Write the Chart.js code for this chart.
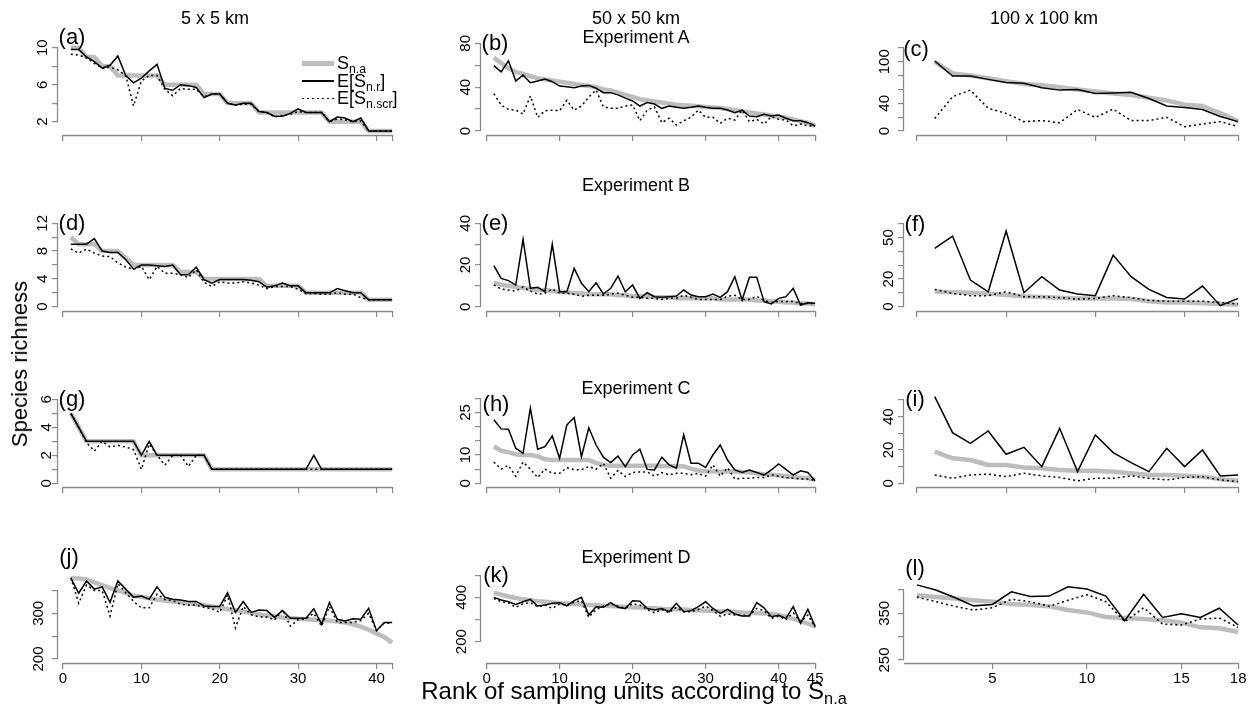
<!DOCTYPE html>
<html><head><meta charset="utf-8">
<script src="https://cdn.jsdelivr.net/npm/chart.js@4.4.1/dist/chart.umd.min.js"></script>
<style>
html,body{margin:0;padding:0;background:#fff;}
body{width:1260px;height:711px;position:relative;overflow:hidden;font-family:"Liberation Sans",Arial,sans-serif;color:#000;}
canvas{position:absolute;z-index:1;}
.t{position:absolute;transform:translate(-50%,-50%);white-space:nowrap;z-index:2;line-height:1;}
.title{font-size:18px;}
.plab{font-size:22px;}
.big{font-size:22px;}
.xt{font-size:24px;}
.ll{position:absolute;z-index:2;}
.lt{position:absolute;z-index:2;font-size:18px;transform:translateY(-50%);line-height:1;white-space:nowrap;}
sub{font-size:68%;line-height:0;vertical-align:-0.3em;}
</style></head><body>

<div class="t title" style="left:215px;top:18px">5 x 5 km</div>
<div class="t title" style="left:636px;top:18px">50 x 50 km</div>
<div class="t title" style="left:1044px;top:18px">100 x 100 km</div>
<div class="t title" style="left:636px;top:37px">Experiment A</div>
<div class="t title" style="left:636px;top:185px">Experiment B</div>
<div class="t title" style="left:636px;top:388px">Experiment C</div>
<div class="t title" style="left:636px;top:557px">Experiment D</div>

<div class="t plab" style="left:72px;top:37px">(a)</div>
<div class="t plab" style="left:495px;top:43px">(b)</div>
<div class="t plab" style="left:916px;top:49px">(c)</div>
<div class="t plab" style="left:72px;top:223px">(d)</div>
<div class="t plab" style="left:495px;top:223px">(e)</div>
<div class="t plab" style="left:915px;top:224px">(f)</div>
<div class="t plab" style="left:72px;top:399px">(g)</div>
<div class="t plab" style="left:496px;top:404px">(h)</div>
<div class="t plab" style="left:915px;top:399px">(i)</div>
<div class="t plab" style="left:69px;top:557px">(j)</div>
<div class="t plab" style="left:496px;top:575px">(k)</div>
<div class="t plab" style="left:915px;top:568px">(l)</div>

<div class="t big" style="left:20px;top:364px;transform:translate(-50%,-50%) rotate(-90deg)">Species richness</div>
<div class="t xt" style="left:634px;top:691px">Rank of sampling units according to S<sub>n.a</sub></div>

<div class="ll" style="left:302px;top:61px;width:32px;height:4.5px;background:#bdbdbd"></div>
<div class="ll" style="left:302px;top:80.3px;width:32px;height:1.5px;background:#000"></div>
<div class="ll" style="left:302px;top:97.6px;width:32px;height:1.5px;background:repeating-linear-gradient(90deg,#000 0 2px,transparent 2px 5px)"></div>
<div class="lt" style="left:337px;top:63px">S<sub>n.a</sub></div>
<div class="lt" style="left:337px;top:81px">E[S<sub>n.r</sub>]</div>
<div class="lt" style="left:337px;top:98px">E[S<sub>n.scr</sub>]</div>

<script>
// ---------- ranks (x categories) ----------
const rank42 = [1,2,3,4,5,6,7,8,9,10,11,12,13,14,15,16,17,18,19,20,21,22,23,24,25,26,27,28,29,30,31,32,33,34,35,36,37,38,39,40,41,42];
const rank45 = [1,2,3,4,5,6,7,8,9,10,11,12,13,14,15,16,17,18,19,20,21,22,23,24,25,26,27,28,29,30,31,32,33,34,35,36,37,38,39,40,41,42,43,44,45];
const rank18 = [1,2,3,4,5,6,7,8,9,10,11,12,13,14,15,16,17,18];

// ---------- tick labels ----------
const xTicks42 = [0,10,20,30,40,42];
const xLabels42 = [0,10,20,30,40];
const xTicks45 = [0,10,20,30,40,45];
const xLabels45 = [0,10,20,30,40,45];
const xTicks18 = [0,5,10,15,18];
const xTicksL = [5,10,15,18];
const xLabelsL = [5,10,15,18];

// ---------- series: S_n.a (sna), E[S_n.r] (esr), E[S_n.scr] (escr) ----------
const a_sna  = [10,10,9,9,8,8,7,7,7,7,7,7,6,6,6,6,6,5,5,5,4,4,4,4,3,3,3,3,3,3,3,3,3,2,2,2,2,2,1,1,1,1];
const a_esr  = [9.8,9.8,9.0,8.5,7.8,8.1,9.1,7.0,6.2,6.7,7.5,8.2,5.6,5.4,6.0,5.9,5.7,4.6,5.0,5.0,4.0,3.8,4.0,4.0,3.1,3.0,2.6,2.6,2.9,3.4,3.0,3.0,3.0,2.0,2.5,2.4,2.0,2.4,1,1,1,1];
const a_escr = [9.3,9.2,8.9,8.3,7.8,7.9,7.6,7.0,3.7,6.4,7.0,7.0,5.5,4.8,5.6,5.5,5.5,4.7,5.0,5.0,4.0,3.8,3.9,3.9,3.1,3.0,2.5,2.7,2.8,3.1,3.0,3.0,3.0,2.0,2.3,2.2,2.0,2.1,1,1,1,1];

const b_sna  = [67,62,57,54,52,50,48,47,46,45,44,43,42,41,40,38,37,35,33,31,29,28,27,26,25,24,23.5,23,22.5,22,21.5,21,20,19,18,17,16,15,14,13,12,10.5,9,7.5,5];
const b_esr  = [59.6,54,64,45.6,51,44,45.6,47.4,45,41,40.4,39.5,41,41.6,39,35,35,33,30,27.4,22.8,26,24.6,20.7,22.8,21.6,20.7,21.6,22.8,21.6,20.7,20.7,19.1,16.7,19.1,13.7,13.1,15.2,13.7,14.6,11.6,9.4,9.4,7.6,4.6];
const b_escr = [34,23.7,19.8,19,15.5,32,12.5,18.5,19,18.5,28,19,22.8,31,37.4,22,20.7,20.7,22.8,23.7,9.4,19,22,7.6,11.6,5.5,9.4,12.5,19,12.5,12.5,7,11.6,10,19,8.5,10.6,6.4,13,10.6,10,4.6,6.4,4.6,4.6];

const c_sna  = [100,83,80,76,72,68,66,63,60,57,54,52,48,44,38,36,26,14];
const c_esr  = [101,79.3,79.3,74.5,70,69,62.5,59,60,54,55,56,47,36,34,31,21,13.5];
const c_escr = [18,49.5,59,32.7,25.5,13.5,15,12,31,19.7,31.7,15,15,19.7,6.3,10,13.5,6.3];

const d_sna  = [10,9,9,9,8,8,8,7,6,6,6,6,6,6,5,5,5,4,4,4,4,4,4,4,4,3,3,3,3,3,2,2,2,2,2,2,2,2,1,1,1,1];
const d_esr  = [9,9,9,9.8,8,7.8,7.8,6.8,5.4,6,6,5.9,5.8,6,4.6,4.6,5.7,3.9,3.4,3.9,3.9,3.9,3.9,3.8,3.6,2.8,3,3.4,3,3,2,2,2,2,2.6,2.3,2,2,1,1,1,1];
const d_escr = [8.3,7.7,8.3,7.7,7.3,7.2,6.3,5.7,5.4,5.8,3.9,5.8,4.8,4.8,4.6,4.2,5.3,3.5,2.9,3.6,3.4,3.4,3.6,3.4,3.1,2.6,2.9,2.9,2.9,2.5,1.9,1.9,1.8,1.8,2.0,1.8,1.8,1.3,1,1,1,1];

const e_sna  = [11.5,10.5,10,9.5,9,8.5,8,8,7.5,7,7,6.5,6.5,6,6,6,6,5.5,5.5,5,5,5,4.5,4.5,4.5,4,4,4,4,4,4,3.5,3.5,3.5,3.5,3.5,3,3,2.5,2.5,2,2,1.5,1.5,1];
const e_esr  = [19.7,13.6,12.5,10.4,32.3,8.8,9.3,7.2,30,7.2,7.2,18.4,11.2,7.2,11.5,6.1,8.8,14.7,7.2,10.4,4,6.7,4.8,4.5,4.8,5.1,8,5.6,4.8,4.8,6.1,4.5,7.2,14.4,3.2,14.1,14.1,2.4,1.3,4,4.8,8.8,0.8,1.9,1.6];
const e_escr = [10.5,8.5,8,7.5,9.5,7.5,6,6.5,8.5,6.5,6.5,6,5,5.5,5.5,5.5,6,6.5,5.5,4.5,4.5,4,4,3.5,4,4,5.5,4.5,3.5,3.5,3.5,3.5,5,5.5,3.5,3.5,5,3,2,2.5,2.5,2.5,1.5,1.5,1.5];

const f_sna  = [11,10.5,10,9.5,8.5,7.5,7,6.5,6,6,6,5.5,4,3,3,2.5,2,1.5];
const f_esr  = [42.2,51.1,19.3,10.8,54.7,10.1,21.7,12,9.2,8,37.3,21.7,12.5,6.7,5.5,14.9,0.7,6];
const f_escr = [12.5,9.6,8,8,10.8,7.2,7.2,6.5,5.5,6,8,6.5,4.5,4,4,4,3,2];

const g_sna  = [5,4,3,3,3,3,3,3,3,2,2,2,2,2,2,2,2,2,1,1,1,1,1,1,1,1,1,1,1,1,1,1,1,1,1,1,1,1,1,1,1,1];
const g_esr  = [5,4,3,3,3,3,3,3,3,2,3,2,2,2,2,2,2,2,1,1,1,1,1,1,1,1,1,1,1,1,1,2,1,1,1,1,1,1,1,1,1,1];
const g_escr = [5,4,2.9,2.3,3,2.6,2.7,2.6,2.4,1,2.8,2,1.3,2,2,1.2,2,2,1,1,1,1,1,1,1,1,1,1,1,1,1,1,1,1,1,1,1,1,1,1,1,1];

const h_sna  = [13,11.5,11,10.2,10,10,9.5,8.5,8.2,8.2,8.2,8.2,8.2,8.2,7.2,6.5,6.2,6.2,6.2,6.2,6.2,6.2,6.2,6,6,6,6,5.2,4.5,4.2,4.2,4.2,4.2,4.2,4,3.8,3.5,3.2,3,2.8,2.5,2.2,2,1.8,1.2];
const h_esr  = [22.4,19.2,19.1,12.4,10.6,26.5,12,12.9,16.7,8.8,20.6,23.2,9.4,19.6,13.5,9.2,7.3,9.6,5.9,10,12,4.9,4.7,9.2,6.5,5.3,17.1,7.1,7.1,5.6,10,13.5,8.2,4.7,3.8,4.7,3.8,2.9,4.7,6.8,4.9,2.9,4.4,3.8,0.9];
const h_escr = [7.5,5,6.3,2.5,7.5,5,2,5,3.5,3.5,5.5,4.8,4.8,5.9,5,7,1.8,4.5,2.4,3.8,4,4,2.5,3.8,3,3.5,3.5,3,3.5,2.5,6.5,2.5,5.5,1.5,1.8,1.8,2,2,3,2.5,2,1.8,1.5,1.5,1];

const i_sna  = [19,15,14,11,11,9.5,9,8,7.5,7.5,7,6,5,5,4.5,4,2.5,1.5];
const i_esr  = [52,30.4,24,31.4,17.4,21.6,10,33,7,29,18.4,12.4,7,21,10,20,4.4,5];
const i_escr = [5,3,5,5.5,4,6,4.5,3.5,1.5,3,3,4.5,3,2,3.5,4,2,1];

const j_sna  = [377,376,374,368,362,355,350,345,339,336,333,330,328,326,324,322,320,318,315,312,309,307,304,301,298,295,293,291,290,288,287,286,285,284,282,280,276,271,264,256,248,236];
const j_esr  = [377,344,371,353,358,324,371,353,335,338,331,358,335,331,329,326,326,316,315,315,345,302,326,302,307,306,291,306,289,289,289,310,276,324,287,283,288,287,311,262,280,280];
const j_escr = [378,322,362,350,350,294,365,345,326,312,312,342,330,328,320,318,318,313,310,302,340,268,315,297,292,292,285,308,272,286,288,300,272,315,280,280,280,284,300,262,279,278];

const k_sna  = [421,412,404,397,391,387,383,380,377,374,372,370,368,366,364,362,361,359,357,355,354,352,351,349,348,346,345,343,342,340,339,337,336,334,332,331,329,327,325,320,313,303,293,282,270];
const k_esr  = [400,388,380,368,380,391,361,365,373,376,362,385,400,320,358,355,376,355,350,385,383,350,343,350,335,373,335,340,358,380,350,328,346,325,316,316,376,353,313,319,305,358,283,346,268];
const k_escr = [395,380,375,355,372,375,358,365,350,370,365,378,385,310,345,360,370,360,350,372,365,345,330,345,330,355,335,335,345,360,340,315,325,320,318,318,350,340,305,315,300,330,290,320,265];

const l_sna  = [389,385,382,378,375,370,368,365,357,352,342,340,338,335,330,320,318,310];
const l_esr  = [411,400,384,366,369,396,386,387,407,402,387,334,391,341,349,341,361,325];
const l_escr = [385,375,365,357,362,380,375,365,378,390,375,332,362,327,325,338,340,320];

// ---------- styling / layout ----------
Chart.defaults.font.family = '"Liberation Sans", Arial, sans-serif';
Chart.defaults.font.size = 15;
Chart.defaults.color = '#000';
const AXIS_COL = '#8a8a8a';
const GRAY_COL = '#bdbdbd';
const colLeft = [3, 426, 849];
const rowTop = [17, 193, 369, 545];
const CW = 414, CH = 148, YW = 55, PT = 10, PR = 12, XH = 30;

const panels = [
  {col:0,row:0,r:rank42,s:a_sna,e:a_esr,c:a_escr,xmin:-0.64,xmax:43.64,xt:xTicks42,xl:[],ymin:0.562,ymax:12.24,yt:[2,4,6,8,10],yl:[2,6,10]},
  {col:1,row:0,r:rank45,s:b_sna,e:b_esr,c:b_escr,xmin:-0.76,xmax:46.76,xt:xTicks45,xl:[],ymin:-3.65,ymax:94.9,yt:[0,20,40,60,80],yl:[0,40,80]},
  {col:2,row:0,r:rank18,s:c_sna,e:c_esr,c:c_escr,xmin:-0.72,xmax:18.72,xt:xTicks18,xl:[],ymin:-5.77,ymax:150.1,yt:[0,20,40,60,80,100,120],yl:[0,40,100]},
  {col:0,row:1,r:rank42,s:d_sna,e:d_esr,c:d_escr,xmin:-0.64,xmax:43.64,xt:xTicks42,xl:[],ymin:-0.62,ymax:14.92,yt:[0,2,4,6,8,10,12],yl:[0,4,8,12]},
  {col:1,row:1,r:rank45,s:e_sna,e:e_esr,c:e_escr,xmin:-0.76,xmax:46.76,xt:xTicks45,xl:[],ymin:-2.06,ymax:49.74,yt:[0,10,20,30,40],yl:[0,20,40]},
  {col:2,row:1,r:rank18,s:f_sna,e:f_esr,c:f_escr,xmin:-0.72,xmax:18.72,xt:xTicks18,xl:[],ymin:-3.11,ymax:74.98,yt:[0,10,20,30,40,50,60],yl:[0,20,50]},
  {col:0,row:2,r:rank42,s:g_sna,e:g_esr,c:g_escr,xmin:-0.64,xmax:43.64,xt:xTicks42,xl:[],ymin:-0.264,ymax:7.45,yt:[0,1,2,3,4,5,6],yl:[0,2,4,6]},
  {col:1,row:2,r:rank45,s:h_sna,e:h_esr,c:h_escr,xmin:-0.76,xmax:46.76,xt:xTicks45,xl:[],ymin:-1.31,ymax:36.8,yt:[0,5,10,15,20,25,30],yl:[0,10,25]},
  {col:2,row:2,r:rank18,s:i_sna,e:i_esr,c:i_escr,xmin:-0.72,xmax:18.72,xt:xTicks18,xl:[],ymin:-2.22,ymax:62.6,yt:[0,10,20,30,40,50],yl:[0,20,40]},
  {col:0,row:3,r:rank42,s:j_sna,e:j_esr,c:j_escr,xmin:-0.64,xmax:43.64,xt:xTicks42,xl:xLabels42,ymin:191.2,ymax:427.7,yt:[200,250,300,350],yl:[200,300]},
  {col:1,row:3,r:rank45,s:k_sna,e:k_esr,c:k_escr,xmin:-0.76,xmax:46.76,xt:xTicks45,xl:xLabels45,ymin:103.9,ymax:591,yt:[200,300,400,500],yl:[200,400]},
  {col:2,row:3,r:rank18,s:l_sna,e:l_esr,c:l_escr,xmin:0.32,xmax:18.68,xt:xTicksL,xl:xLabelsL,ymin:243.6,ymax:475,yt:[250,300,350,400],yl:[250,350],xEdge:true}
];

const axisLines = {
  id: 'axisLines',
  afterDraw(chart, args, opts) {
    const {ctx, chartArea, scales} = chart;
    const x = scales.x, y = scales.y;
    ctx.save();
    ctx.strokeStyle = AXIS_COL;
    ctx.lineWidth = 1.3;
    const xt = x.ticks.map(t => t.value);
    const x0 = opts.xEdge ? chartArea.left : x.getPixelForValue(xt[0]);
    const x1 = x.getPixelForValue(xt[xt.length - 1]);
    ctx.beginPath();
    ctx.moveTo(x0, chartArea.bottom + 0.5);
    ctx.lineTo(x1, chartArea.bottom + 0.5);
    ctx.stroke();
    const yt = y.ticks.map(t => t.value);
    ctx.beginPath();
    ctx.moveTo(chartArea.left - 0.5, y.getPixelForValue(yt[0]));
    ctx.lineTo(chartArea.left - 0.5, y.getPixelForValue(yt[yt.length - 1]));
    ctx.stroke();
    ctx.restore();
  }
};

function pts(ranks, vals) { return ranks.map((r, i) => ({x: r, y: vals[i]})); }

panels.forEach(p => {
  const cv = document.createElement('canvas');
  cv.width = CW; cv.height = CH;
  cv.style.left = colLeft[p.col] + 'px';
  cv.style.top = rowTop[p.row] + 'px';
  cv.style.width = CW + 'px'; cv.style.height = CH + 'px';
  document.body.appendChild(cv);
  new Chart(cv.getContext('2d'), {
    type: 'line',
    data: {
      datasets: [
        {label: 'E[S_n.r]', data: pts(p.r, p.e), borderColor: '#000', borderWidth: 1.5, pointRadius: 0, tension: 0, order: 1, borderJoinStyle: 'miter'},
        {label: 'E[S_n.scr]', data: pts(p.r, p.c), borderColor: '#000', borderWidth: 1.5, borderDash: [2, 3], pointRadius: 0, tension: 0, order: 2},
        {label: 'S_n.a', data: pts(p.r, p.s), borderColor: GRAY_COL, borderWidth: 4.5, pointRadius: 0, tension: 0, order: 3, borderJoinStyle: 'round', borderCapStyle: 'butt'}
      ]
    },
    options: {
      responsive: false,
      animation: false,
      events: [],
      layout: {padding: {left: 0, top: PT, right: PR, bottom: 0}},
      plugins: {legend: {display: false}, tooltip: {enabled: false}, axisLines: {xEdge: !!p.xEdge}},
      scales: {
        x: {
          type: 'linear', position: 'bottom', min: p.xmin, max: p.xmax,
          afterBuildTicks: s => { s.ticks = p.xt.map(v => ({value: v})); },
          afterFit: s => { s.height = XH; s.paddingLeft = 0; s.paddingRight = 0; },
          grid: {display: true, drawOnChartArea: false, drawTicks: true, tickLength: 6, color: AXIS_COL, lineWidth: 1.2},
          border: {display: false},
          ticks: {autoSkip: false, maxRotation: 0, minRotation: 0, padding: 1, color: '#000', font: {size: 15},
                  callback: v => p.xl.includes(v) ? String(v) : ''}
        },
        y: {
          type: 'linear', position: 'left', min: p.ymin, max: p.ymax,
          afterBuildTicks: s => { s.ticks = p.yt.map(v => ({value: v})); },
          afterFit: s => { s.width = YW; s.paddingTop = 0; s.paddingBottom = 0; },
          grid: {display: true, drawOnChartArea: false, drawTicks: true, tickLength: 6, color: AXIS_COL, lineWidth: 1.2},
          border: {display: false},
          ticks: {autoSkip: false, minRotation: 90, maxRotation: 90, crossAlign: 'center', padding: 1, color: '#000', font: {size: 15},
                  callback: v => p.yl.includes(v) ? String(v) : ''}
        }
      }
    },
    plugins: [axisLines]
  });
});
</script>
</body></html>
